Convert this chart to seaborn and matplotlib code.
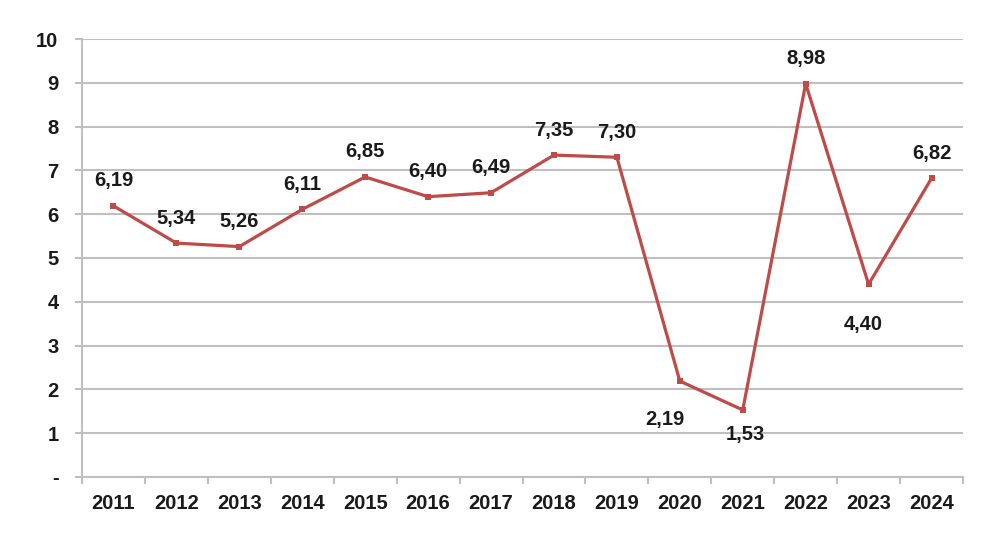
import matplotlib
matplotlib.use('Agg')
from matplotlib import pyplot as plt
from matplotlib.ticker import FixedLocator
import seaborn as sns
import pandas as pd

years = ['2011', '2012', '2013', '2014', '2015', '2016', '2017',
         '2018', '2019', '2020', '2021', '2022', '2023', '2024']
values = [6.19, 5.34, 5.26, 6.11, 6.85, 6.40, 6.49,
          7.35, 7.30, 2.19, 1.53, 8.98, 4.40, 6.82]
y_ticks = [0, 1, 2, 3, 4, 5, 6, 7, 8, 9, 10]
y_tick_labels = ['-', '1', '2', '3', '4', '5', '6', '7', '8', '9', '10']

# label offsets in points (dx, dy) relative to the marker
label_offsets = [(0, 18), (0, 18), (0, 18), (0, 18), (0, 18), (0, 18), (0, 18),
                 (0, 18), (0, 18), (-11, -28), (2, -18), (0, 18), (-4, -29), (0, 18)]

LINE_COLOR = '#BE4B48'
GRID_COLOR = '#BFBFBF'

sns.set_style('white')
plt.rcParams['font.family'] = ['Liberation Sans', 'DejaVu Sans']

df = pd.DataFrame({'year': years, 'value': values})

fig = plt.figure(figsize=(10, 5.47), dpi=100)
ax = fig.add_axes([0.082, 0.128, 0.881, 0.8007])

sns.lineplot(data=df, x='year', y='value', ax=ax, color=LINE_COLOR,
             linewidth=2.3, marker='s', markersize=5, markeredgewidth=0,
             sort=False)

ax.set_xlim(-0.5, len(years) - 0.5)
ax.set_ylim(0, 10)
ax.set_xlabel('')
ax.set_ylabel('')

# y axis
ax.set_yticks(y_ticks)
ax.set_yticklabels(y_tick_labels)
ax.yaxis.grid(True, color=GRID_COLOR, linewidth=1.5)
ax.xaxis.grid(False)
ax.tick_params(axis='y', which='major', length=5, width=1.5, color=GRID_COLOR,
               pad=12, labelsize=14.5, labelcolor='#1a1a1a', left=True)

# x axis: labels centered, tick marks between categories
ax.set_xticks(range(len(years)))
ax.set_xticklabels(years)
ax.xaxis.set_minor_locator(FixedLocator([i - 0.5 for i in range(len(years) + 1)]))
ax.tick_params(axis='x', which='major', length=0, pad=12,
               labelsize=14.5, labelcolor='#1a1a1a')
ax.tick_params(axis='x', which='minor', length=5, width=1.5, color=GRID_COLOR,
               bottom=True)
for lbl in ax.get_xticklabels() + ax.get_yticklabels():
    lbl.set_fontweight('bold')

for side in ['top', 'right']:
    ax.spines[side].set_visible(False)
for side in ['left', 'bottom']:
    ax.spines[side].set_color(GRID_COLOR)
    ax.spines[side].set_linewidth(1.5)

# data labels
for i, (v, off) in enumerate(zip(values, label_offsets)):
    ax.annotate(f'{v:.2f}'.replace('.', ','), xy=(i, v), xytext=off,
                textcoords='offset points', ha='center', va='center',
                fontsize=14.5, fontweight='bold', color='#1a1a1a')

fig.savefig('out.png', dpi=100)
